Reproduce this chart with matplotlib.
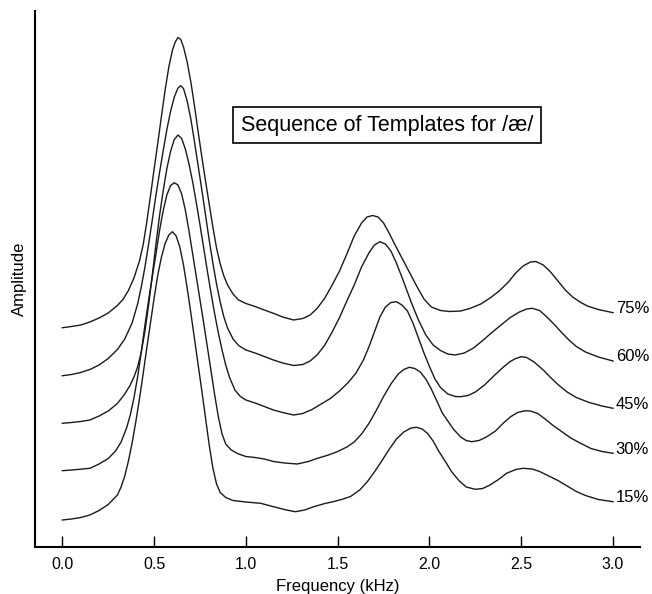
import matplotlib
matplotlib.use("Agg")
import matplotlib.pyplot as plt

plt.rcParams['font.family'] = ['Liberation Sans', 'DejaVu Sans']

# Frequency (kHz) and amplitude (arbitrary units, each template offset)
freq_75 = [0.00, 0.05, 0.10, 0.15, 0.20, 0.25, 0.30, 0.33, 0.36, 0.39, 0.42, 0.44, 0.46, 0.48, 0.50,
           0.52, 0.54, 0.56, 0.58, 0.60, 0.615, 0.63, 0.645, 0.66, 0.68, 0.70, 0.72, 0.74, 0.76, 0.78,
           0.80, 0.82, 0.84, 0.86, 0.88, 0.90, 0.93, 0.96, 1.00, 1.05, 1.10, 1.15, 1.20, 1.26, 1.31,
           1.35, 1.39, 1.43, 1.47, 1.51, 1.55, 1.59, 1.63, 1.66, 1.69, 1.72, 1.75, 1.78, 1.81, 1.85,
           1.89, 1.93, 1.97, 2.01, 2.06, 2.11, 2.17, 2.22, 2.28, 2.33, 2.38, 2.43, 2.47, 2.51, 2.55,
           2.58, 2.62, 2.66, 2.70, 2.74, 2.78, 2.82, 2.86, 2.92, 3.00]
amp_75 = [219.3, 220.5, 222, 225, 229, 234, 241.5, 247.5, 256.5, 269, 286, 302, 325, 351, 378,
          404, 431, 457, 480, 497, 505, 509.5, 507.5, 500, 485, 465, 441, 415, 390, 366,
          343, 320, 299, 283, 271, 262, 253, 247, 243.5, 240.5, 237, 233.7, 230, 227, 228.5,
          232, 239, 249, 262, 276, 293, 311, 324, 330, 331.5, 330, 324, 314, 303, 289,
          275, 261, 248, 240, 236.5, 235.5, 236, 238.5, 243, 249, 256, 265, 274, 281, 285,
          285.5, 282, 275, 266, 257, 250, 245, 241, 237.5, 234.3]

freq_60 = [0.00, 0.05, 0.10, 0.15, 0.20, 0.25, 0.30, 0.34, 0.38, 0.41, 0.43, 0.45, 0.47, 0.49, 0.51,
           0.53, 0.55, 0.57, 0.59, 0.61, 0.63, 0.645, 0.66, 0.68, 0.70, 0.72, 0.74, 0.76, 0.78, 0.80,
           0.82, 0.84, 0.86, 0.88, 0.90, 0.93, 0.96, 1.00, 1.05, 1.10, 1.15, 1.20, 1.26, 1.31, 1.35,
           1.39, 1.43, 1.47, 1.51, 1.55, 1.59, 1.63, 1.67, 1.70, 1.73, 1.76, 1.79, 1.82, 1.86, 1.90,
           1.94, 1.98, 2.02, 2.06, 2.10, 2.14, 2.19, 2.24, 2.29, 2.34, 2.39, 2.44, 2.49, 2.53, 2.56,
           2.60, 2.64, 2.68, 2.72, 2.76, 2.80, 2.85, 2.92, 3.00]
amp_60 = [171.3, 172.5, 174.5, 177.5, 182, 188.5, 197.5, 208, 224, 243, 260, 280, 303, 327, 352,
          375, 397, 418, 436, 450, 459, 461.3, 458.5, 446, 428, 405, 381, 357, 332, 307,
          284, 263, 245, 230, 219, 208, 201.5, 197, 194, 190.5, 187, 184, 181.5, 182.5, 186,
          192.5, 202, 215, 229.5, 246, 262, 280, 294, 302, 305.3, 303, 296, 284, 265, 245,
          227, 212, 202, 196.5, 193, 192, 194, 199, 206.5, 214.5, 222, 229.5, 235, 238, 238.7,
          236.5, 230, 222.5, 214.5, 207, 200.5, 195, 190, 186]

freq_45 = [0.00, 0.05, 0.10, 0.15, 0.20, 0.25, 0.30, 0.34, 0.37, 0.39, 0.41, 0.43, 0.45, 0.47, 0.49,
           0.51, 0.53, 0.55, 0.57, 0.59, 0.61, 0.63, 0.65, 0.67, 0.69, 0.71, 0.73, 0.75, 0.77, 0.79,
           0.81, 0.83, 0.85, 0.87, 0.89, 0.91, 0.94, 0.97, 1.00, 1.05, 1.10, 1.15, 1.20, 1.26, 1.31,
           1.36, 1.41, 1.46, 1.51, 1.56, 1.60, 1.64, 1.67, 1.70, 1.73, 1.76, 1.79, 1.82, 1.85, 1.88,
           1.91, 1.94, 1.97, 2.00, 2.03, 2.06, 2.10, 2.14, 2.17, 2.21, 2.25, 2.30, 2.35, 2.40, 2.44,
           2.47, 2.50, 2.53, 2.57, 2.62, 2.66, 2.70, 2.75, 2.80, 2.87, 2.94, 3.00]
amp_45 = [123.7, 124.5, 125.5, 127, 131, 136, 143.5, 153, 162, 170, 180, 195, 216, 242, 272,
          303, 332, 357, 379, 396, 407.5, 412, 408.5, 398, 383, 365, 344, 322, 299, 276,
          254, 233, 214, 197, 182, 170, 157, 150.5, 147, 144, 140.5, 137, 134.5, 132, 133.5,
          137.5, 143, 148.5, 156, 165, 174, 187, 200, 215, 230, 240, 244.5, 245.3, 242, 236,
          224, 209, 194, 180.5, 168, 159.5, 153, 150.5, 150.3, 151.5, 155, 162, 171, 179.5, 185.5,
          188.5, 190.3, 189.5, 185, 177, 169.5, 162.5, 155, 149.5, 144.5, 141, 138.7]

freq_30 = [0.00, 0.05, 0.10, 0.15, 0.20, 0.25, 0.29, 0.32, 0.35, 0.37, 0.39, 0.41, 0.43, 0.45, 0.47,
           0.49, 0.51, 0.53, 0.55, 0.57, 0.59, 0.61, 0.63, 0.65, 0.67, 0.69, 0.71, 0.73, 0.75, 0.77,
           0.79, 0.81, 0.83, 0.85, 0.87, 0.89, 0.92, 0.96, 1.00, 1.05, 1.10, 1.15, 1.21, 1.28, 1.34,
           1.39, 1.45, 1.50, 1.55, 1.59, 1.63, 1.67, 1.71, 1.75, 1.79, 1.83, 1.86, 1.89, 1.92, 1.95,
           1.98, 2.01, 2.04, 2.07, 2.10, 2.13, 2.17, 2.20, 2.23, 2.27, 2.31, 2.36, 2.40, 2.44, 2.48,
           2.52, 2.55, 2.59, 2.63, 2.67, 2.72, 2.77, 2.82, 2.88, 2.94, 3.00]
amp_30 = [76.3, 77, 77.8, 78.7, 83, 88.5, 96, 105, 119, 132, 149, 170, 195, 222, 247,
          270, 293, 317, 337, 352.5, 361.5, 364.3, 362, 353, 337, 316, 293, 270, 247, 224,
          200, 176, 152, 130, 113, 103, 97, 93, 90.5, 89.5, 88, 85.5, 84, 83, 85.5,
          88.7, 92, 95.5, 100, 105, 113, 123.5, 136.5, 150.5, 163, 173, 177.5, 179.7, 178.5, 175,
          168, 158, 146, 134, 126, 118, 110, 106.5, 105.3, 106.5, 110, 116, 123.5, 130, 134.5,
          136.2, 136, 133.5, 128, 122, 115.5, 109, 104, 98.5, 95.5, 93.7]

freq_15 = [0.00, 0.05, 0.10, 0.15, 0.20, 0.25, 0.30, 0.32, 0.34, 0.36, 0.38, 0.40, 0.42, 0.44, 0.46,
           0.48, 0.50, 0.52, 0.54, 0.56, 0.58, 0.60, 0.62, 0.64, 0.66, 0.68, 0.70, 0.72, 0.74, 0.76,
           0.78, 0.80, 0.82, 0.84, 0.86, 0.89, 0.93, 1.00, 1.08, 1.15, 1.22, 1.27, 1.32, 1.37, 1.43,
           1.48, 1.53, 1.57, 1.62, 1.66, 1.70, 1.74, 1.78, 1.82, 1.86, 1.90, 1.93, 1.96, 1.99, 2.02,
           2.05, 2.09, 2.12, 2.16, 2.20, 2.25, 2.29, 2.33, 2.38, 2.42, 2.47, 2.51, 2.56, 2.60, 2.65,
           2.70, 2.75, 2.80, 2.85, 2.92, 3.00]
amp_15 = [27, 28, 29.5, 32, 36.5, 42.5, 52, 60, 71, 86, 104, 125, 148, 173, 199,
          224, 249, 272, 290, 303.5, 312, 315.3, 311, 300, 282, 259, 234, 208, 182, 156,
          129, 102, 79, 63, 54.5, 49.5, 46.5, 45, 43.7, 40.3, 37, 35.3, 37, 40.3, 43.5,
          45.5, 48, 50.5, 57, 65, 75, 86, 97.5, 108, 115, 119, 119.7, 118, 113.5, 106,
          96, 84.5, 75.5, 66.5, 60, 57.7, 58.5, 62, 68, 73.7, 77.5, 78.7, 78, 75.5, 71,
          66.5, 61, 55.5, 51.5, 47.5, 45.3]

labels = ['75%', '60%', '45%', '30%', '15%']
freqs = [freq_75, freq_60, freq_45, freq_30, freq_15]
amps = [amp_75, amp_60, amp_45, amp_30, amp_15]
xticks = [0.0, 0.5, 1.0, 1.5, 2.0, 2.5, 3.0]

fig = plt.figure(figsize=(6.52, 5.94), dpi=100)
ax = fig.add_axes([35/652, 47/594, 605/652, 536/594])

for f, a, lab in zip(freqs, amps, labels):
    ax.plot(f, a, color='#1a1a1a', lw=1.0)
    ax.annotate(lab, xy=(f[-1], a[-1]), xytext=(2, 3), textcoords='offset points',
                va='center', ha='left', fontsize=12, annotation_clip=False)

ax.set_xlim(-0.149, 3.147)
ax.set_ylim(0, 536)
ax.set_xticks(xticks)
ax.set_xticklabels(['%.1f' % t for t in xticks], fontsize=11.5)
ax.set_yticks([])
ax.tick_params(axis='x', direction='in', length=8, width=1, pad=7)
for s in ['top', 'right']:
    ax.spines[s].set_visible(False)
ax.spines['left'].set_linewidth(1.5)
ax.spines['bottom'].set_linewidth(1.5)

ax.set_xlabel('Frequency (kHz)', fontsize=12, labelpad=5)
ax.set_ylabel('Amplitude', fontsize=12, labelpad=6)

ax.text(1.769, 422, 'Sequence of Templates for /\u00e6/', fontsize=15.5, ha='center', va='center',
        bbox=dict(boxstyle='square,pad=0.35', facecolor='white', edgecolor='black', lw=1.2))

fig.savefig('out.png', dpi=100)
